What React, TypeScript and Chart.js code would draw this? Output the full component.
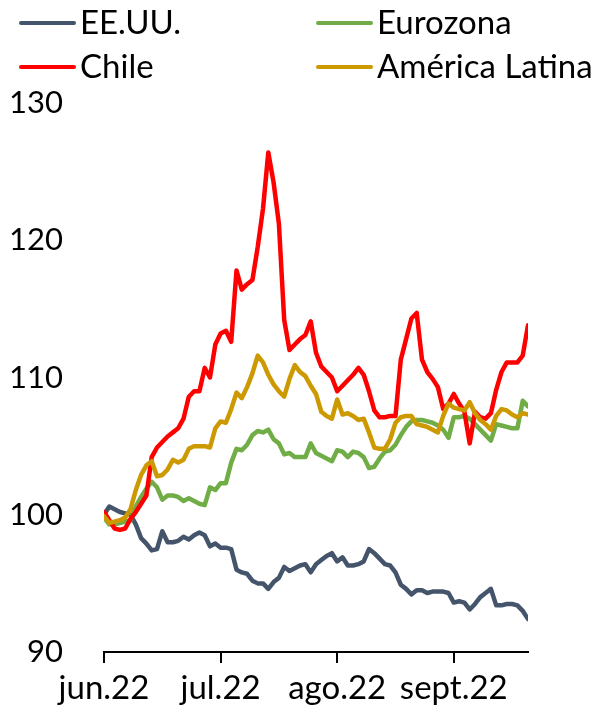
import { useEffect, useRef } from "react";
import { Chart, registerables } from "chart.js";

Chart.register(...registerables);

// X axis: daily (business-day) observations, month ticks at these indices
const monthLabels = ["jun.22", "jul.22", "ago.22", "sept.22"];
const monthStarts = [0, 22, 44, 66];
const lastIndex = 80;

const seriesNames = ["EE.UU.", "Eurozona", "Chile", "América Latina"];
const seriesColors = ["#44546A", "#70AD47", "#FF0000", "#CC9900"];

const eeuu = [
  100.0, 100.6, 100.4, 100.2, 100.1, 100.0, 99.3, 98.3, 97.9, 97.4,
  97.5, 98.8, 98.0, 98.0, 98.1, 98.4, 98.2, 98.5, 98.7, 98.5,
  97.7, 97.9, 97.6, 97.6, 97.5, 96.0, 95.8, 95.7, 95.2, 95.0,
  95.0, 94.6, 95.1, 95.4, 96.2, 95.9, 96.1, 96.3, 96.4, 95.8,
  96.4, 96.7, 97.0, 97.2, 96.6, 96.9, 96.3, 96.3, 96.4, 96.6,
  97.5, 97.2, 96.8, 96.4, 96.3, 95.8, 94.9, 94.6, 94.2, 94.5,
  94.5, 94.3, 94.4, 94.4, 94.4, 94.3, 93.6, 93.7, 93.6, 93.1,
  93.5, 94.0, 94.3, 94.6, 93.4, 93.4, 93.5, 93.5, 93.4, 93.0,
  92.4,
];

const eurozona = [
  99.8, 99.3, 99.3, 99.4, 99.5, 99.6, 100.6, 101.3, 101.9, 102.4,
  102.0, 101.1, 101.4, 101.4, 101.3, 101.0, 101.2, 101.0, 100.8, 100.7,
  102.0, 101.8, 102.3, 102.3, 103.8, 104.8, 104.7, 105.1, 105.8, 106.1,
  106.0, 106.2, 105.5, 105.2, 104.4, 104.5, 104.2, 104.2, 104.2, 105.2,
  104.5, 104.3, 104.1, 103.9, 104.7, 104.6, 104.2, 104.6, 104.5, 104.2,
  103.4, 103.5, 104.1, 104.6, 104.7, 105.1, 105.8, 106.4, 106.8, 106.9,
  106.9, 106.8, 106.7, 106.5, 106.2, 105.6, 107.1, 107.1, 107.2, 107.0,
  106.6, 106.2, 105.8, 105.4, 106.6, 106.5, 106.4, 106.3, 106.3, 108.3,
  107.9,
];

const chile = [
  100.2, 99.6, 99.0, 98.9, 99.0, 99.7, 100.2, 100.8, 101.4, 104.2,
  104.9, 105.3, 105.7, 106.0, 106.3, 107.0, 108.6, 109.0, 109.0, 110.7,
  110.0, 112.4, 113.2, 113.4, 112.6, 117.8, 116.4, 116.8, 117.1, 119.5,
  122.3, 126.4, 124.2, 121.2, 114.2, 112.0, 112.4, 112.8, 113.1, 114.1,
  111.8, 110.8, 110.4, 110.0, 109.0, 109.4, 109.8, 110.2, 110.7, 110.2,
  109.0, 107.6, 107.1, 107.1, 107.2, 107.2, 111.3, 112.8, 114.3, 114.7,
  111.3, 110.4, 109.9, 109.3, 107.7, 108.1, 108.8, 108.1, 107.5, 105.2,
  107.5, 107.1, 107.0, 107.4, 109.1, 110.4, 111.1, 111.1, 111.1, 111.6,
  113.8,
];

const americaLatina = [
  99.9, 99.4, 99.5, 99.6, 99.8, 100.4, 101.8, 102.9, 103.6, 103.9,
  102.8, 102.9, 103.3, 104.0, 103.8, 104.0, 104.8, 105.0, 105.0, 105.0,
  104.9, 106.3, 106.8, 106.7, 107.7, 108.9, 108.5, 109.3, 110.3, 111.6,
  111.1, 110.2, 109.5, 109.0, 108.6, 109.9, 110.9, 110.4, 110.1, 109.4,
  108.8, 107.5, 107.2, 107.0, 108.4, 107.3, 107.4, 107.2, 106.9, 107.0,
  106.0, 104.9, 104.8, 104.8, 105.5, 106.7, 107.1, 107.2, 107.2, 106.6,
  106.5, 106.4, 106.2, 106.0, 107.2, 108.1, 107.8, 107.7, 107.6, 108.2,
  107.4, 106.9, 106.6, 106.2, 107.2, 107.7, 107.6, 107.3, 107.1, 107.4,
  107.3,
];

const yMin = 90;
const yMax = 130;
const yStep = 10;

const seriesValues = [eeuu, eurozona, chile, americaLatina];
// drawing order: later series on top (as in the original)
const drawOrder = [3, 2, 1, 0];

const FONT = "Lato, 'Open Sans', sans-serif";

const legendPlugin = {
  id: "customLegend",
  afterDraw(chart: any) {
    const ctx = chart.ctx as CanvasRenderingContext2D;
    ctx.save();
    ctx.font = `33px ${FONT}`;
    ctx.textBaseline = "alphabetic";
    ctx.textAlign = "left";
    const cols = [21, 318];
    const rows = [23, 67];
    seriesNames.forEach((name, i) => {
      const col = cols[i % 2];
      const row = rows[Math.floor(i / 2)];
      ctx.strokeStyle = seriesColors[i];
      ctx.lineWidth = 4;
      ctx.lineCap = "round";
      ctx.beginPath();
      ctx.moveTo(col, row);
      ctx.lineTo(col + 53, row);
      ctx.stroke();
      ctx.fillStyle = "#000";
      ctx.fillText(name, col + 59, row + 11);
    });
    ctx.restore();
  },
};

export default function App() {
  const ref = useRef<HTMLCanvasElement | null>(null);

  useEffect(() => {
    if (!ref.current) return;
    const datasets = seriesNames.map((name, i) => ({
      label: name,
      data: seriesValues[i].map((v, idx) => ({ x: idx, y: v })),
      borderColor: seriesColors[i],
      backgroundColor: seriesColors[i],
      borderWidth: 4.5,
      pointRadius: 0,
      tension: 0,
      fill: false,
      borderJoinStyle: "round" as const,
      borderCapStyle: "round" as const,
      order: drawOrder[i],
    }));

    const chart = new Chart(ref.current, {
      type: "line",
      data: { datasets },
      options: {
        animation: false,
        responsive: true,
        maintainAspectRatio: false,
        layout: { padding: { top: 103, right: 72, left: 0, bottom: 0 } },
        plugins: {
          legend: { display: false },
          tooltip: { enabled: false },
        },
        scales: {
          x: {
            type: "linear",
            min: 0,
            max: lastIndex,
            afterBuildTicks: (scale: any) => {
              scale.ticks = monthStarts.map((v) => ({ value: v }));
            },
            afterFit: (scale: any) => {
              scale.height = 66;
            },
            ticks: {
              autoSkip: false,
              maxRotation: 0,
              padding: 6,
              color: "#000",
              font: { family: FONT, size: 33 },
              callback: (value: any) => {
                const k = monthStarts.indexOf(Number(value));
                return k >= 0 ? monthLabels[k] : "";
              },
            },
            grid: {
              display: true,
              drawOnChartArea: false,
              drawTicks: true,
              tickLength: 11,
              color: "#000",
              lineWidth: 2,
            },
            border: { display: true, color: "#000", width: 2 },
          },
          y: {
            type: "linear",
            min: yMin,
            max: yMax,
            afterFit: (scale: any) => {
              scale.width = 104;
            },
            ticks: {
              stepSize: yStep,
              padding: 33,
              color: "#000",
              font: { family: FONT, size: 31 },
            },
            grid: { display: false },
            border: { display: false },
          },
        },
      },
      plugins: [legendPlugin],
    });
    return () => chart.destroy();
  }, []);

  return (
    <div style={{ position: "fixed", left: 0, top: 0, width: 600, height: 718, background: "#fff" }}>
      <canvas ref={ref} />
    </div>
  );
}
